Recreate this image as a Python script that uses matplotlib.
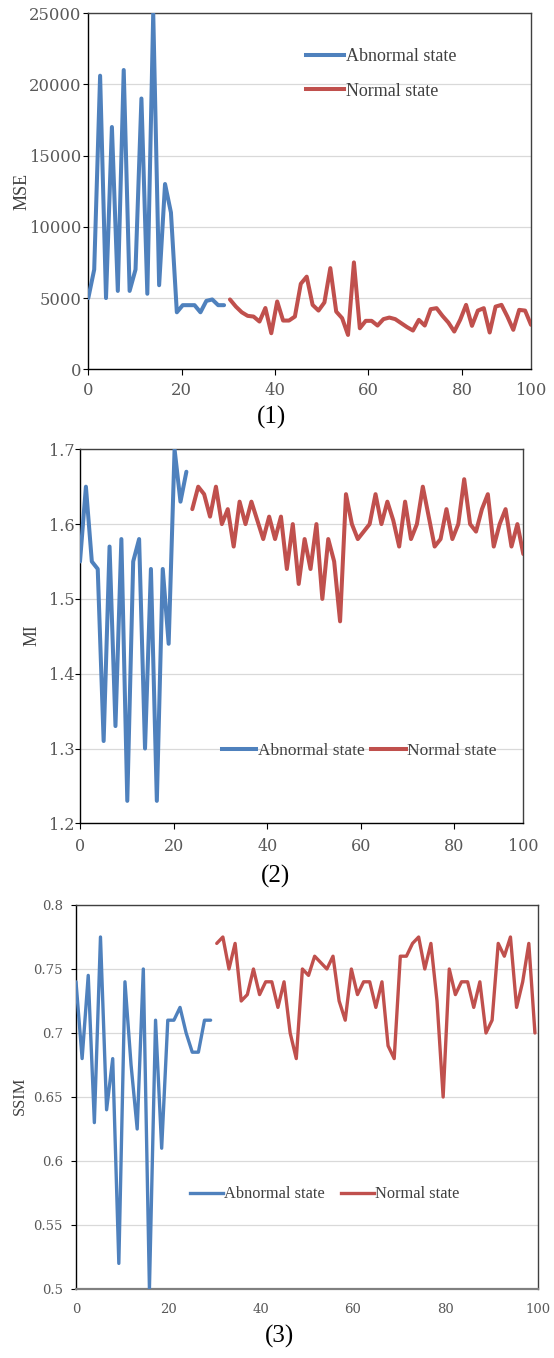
import numpy as np
import matplotlib
matplotlib.use("Agg")
import matplotlib.pyplot as plt
from matplotlib.lines import Line2D
from matplotlib.font_manager import FontProperties

# ---------------- data ----------------
mse_abnormal = [5000, 7000, 20600, 5000, 17000, 5500, 21000, 5500, 7000, 19000, 5300, 25000,
                5900, 13000, 11000, 4000, 4500, 4500, 4500, 4000, 4800, 4900, 4500, 4500]
mse_normal = [4900, 4400, 4000, 3750, 3700, 3350, 4300, 2530, 4760, 3420, 3420, 3700, 6000,
              6500, 4520, 4120, 4690, 7100, 4050, 3590, 2410, 7500, 2880, 3400, 3400, 3070,
              3520, 3630, 3520, 3240, 2960, 2720, 3470, 3070, 4220, 4290, 3750, 3280, 2650,
              3470, 4520, 3050, 4120, 4290, 2580, 4400, 4520, 3700, 2770, 4170, 4120, 3120]

mi_abnormal = [1.55, 1.65, 1.55, 1.54, 1.31, 1.57, 1.33, 1.58, 1.23, 1.55, 1.58, 1.30, 1.54,
               1.23, 1.54, 1.44, 1.70, 1.63, 1.67]
mi_normal = [1.62, 1.65, 1.64, 1.61, 1.65, 1.60, 1.62, 1.57, 1.63, 1.60, 1.63, 1.605, 1.58,
             1.61, 1.58, 1.61, 1.54, 1.60, 1.52, 1.58, 1.54, 1.60, 1.50, 1.58, 1.55, 1.47,
             1.64, 1.60, 1.58, 1.59, 1.60, 1.64, 1.60, 1.63, 1.605, 1.57, 1.63, 1.58, 1.60,
             1.65, 1.61, 1.57, 1.58, 1.62, 1.58, 1.60, 1.66, 1.60, 1.59, 1.62, 1.64, 1.57,
             1.60, 1.62, 1.57, 1.60, 1.56]

ssim_abnormal = [0.74, 0.68, 0.745, 0.63, 0.775, 0.64, 0.68, 0.52, 0.74, 0.675, 0.625, 0.75,
                 0.50, 0.71, 0.61, 0.71, 0.71, 0.72, 0.70, 0.685, 0.685, 0.71, 0.71]
ssim_normal = [0.77, 0.775, 0.75, 0.77, 0.725, 0.73, 0.75, 0.73, 0.74, 0.74, 0.72, 0.74, 0.70,
               0.68, 0.75, 0.745, 0.76, 0.755, 0.75, 0.76, 0.725, 0.71, 0.75, 0.73, 0.74,
               0.74, 0.72, 0.74, 0.69, 0.68, 0.76, 0.76, 0.77, 0.775, 0.75, 0.77, 0.725,
               0.65, 0.75, 0.73, 0.74, 0.74, 0.72, 0.74, 0.70, 0.71, 0.77, 0.76, 0.775,
               0.72, 0.74, 0.77, 0.70]

x_tick_labels = ["0", "20", "40", "60", "80", "100"]
series_labels = ["Abnormal state", "Normal state"]
panel_labels = ["(1)", "(2)", "(3)"]
y_names = ["MSE", "MI", "SSIM"]

BLUE = "#4F81BD"
RED = "#C0504D"
TICK_C = "#595959"
TEXT_C = "#404040"
GRID_C = "#D9D9D9"

W, H = 554, 1358
fig = plt.figure(figsize=(W / 100, H / 100), dpi=100)


def rect(left, right, top, bottom):
    return [left / W, 1 - bottom / H, (right - left) / W, (bottom - top) / H]


serif = "Liberation Serif"
tickfont = "DejaVu Serif"


def draw(ax, abn, nor, xmax_pos, ticks_pos, ylim, yticks, ylabels, lw, tick_fs,
         ypad, xpad, xtick_len, box_color):
    n = len(abn) + len(nor)
    step = xmax_pos / (n - 1)
    idx = np.arange(n)
    xs = idx * step
    ax.plot(xs[:len(abn)], abn, color=BLUE, lw=lw, solid_joinstyle="round",
            solid_capstyle="round", zorder=3)
    ax.plot(xs[len(abn):], nor, color=RED, lw=lw, solid_joinstyle="round",
            solid_capstyle="round", zorder=3)
    ax.set_xlim(0, xmax_pos)
    ax.set_ylim(*ylim)
    ax.set_yticks(yticks)
    ax.set_yticklabels(ylabels)
    ax.set_xticks(ticks_pos)
    ax.set_xticklabels(x_tick_labels)
    ax.yaxis.grid(True, color=GRID_C, lw=0.9, zorder=0)
    ax.set_axisbelow(True)
    for lab in ax.get_xticklabels() + ax.get_yticklabels():
        lab.set_fontfamily(tickfont)
        lab.set_fontsize(tick_fs)
        lab.set_color(TICK_C)
    ax.tick_params(axis="y", direction="out", length=3.6, width=0.8, pad=ypad, colors="black",
                   labelcolor=TICK_C)
    ax.tick_params(axis="x", direction="out", length=xtick_len, width=0.8, pad=xpad,
                   colors="black", labelcolor=TICK_C)
    xt = ax.xaxis.get_major_ticks()
    xt[-1].tick1line.set_visible(False)
    ax.spines["left"].set_color("black")
    ax.spines["bottom"].set_color("black")
    ax.spines["top"].set_color(box_color)
    ax.spines["right"].set_color(box_color)
    for s in ax.spines.values():
        s.set_linewidth(1.0)


# Panel 1
ax1 = fig.add_axes(rect(88.3, 531, 13, 369.3))
draw(ax1, mse_abnormal, mse_normal, 94.8, [0, 20, 40, 60, 80, 94.8], (0, 25000),
     [0, 5000, 10000, 15000, 20000, 25000], ["0", "5000", "10000", "15000", "20000", "25000"],
     2.9, 11.8, 1.5, 5.5, 4.0, "#404040")
h = [Line2D([], [], color=BLUE, lw=2.9), Line2D([], [], color=RED, lw=2.9)]
ax1.legend(h, series_labels, loc="center left", bbox_to_anchor=(0.491, 0.829), frameon=False,
           borderpad=0, borderaxespad=0, handlelength=2.1, handletextpad=0.15, labelspacing=0.95,
           prop=FontProperties(family=serif, size=13), labelcolor=TEXT_C)

# Panel 2
ax2 = fig.add_axes(rect(80, 523.3, 449.3, 823.3))
draw(ax2, mi_abnormal, mi_normal, 94.7, [0, 20, 40, 60, 80, 94.7], (1.2, 1.7),
     [1.2, 1.3, 1.4, 1.5, 1.6, 1.7], ["1.2", "1.3", "1.4", "1.5", "1.6", "1.7"],
     2.9, 11.5, 0.5, 6.0, 4.3, "#404040")
ax2.legend(h, series_labels, loc="center left", bbox_to_anchor=(0.3196, 0.193), frameon=False,
           ncol=2, borderpad=0, borderaxespad=0, handlelength=2.0, handletextpad=0.08,
           columnspacing=0.38, prop=FontProperties(family=serif, size=12.5), labelcolor=TEXT_C)

# Panel 3
ax3 = fig.add_axes(rect(76, 537.7, 905, 1289))
h3 = [Line2D([], [], color=BLUE, lw=2.4), Line2D([], [], color=RED, lw=2.4)]
draw(ax3, ssim_abnormal, ssim_normal, 99.4, [0, 20, 40, 60, 80, 100], (0.5, 0.8),
     [0.5, 0.55, 0.6, 0.65, 0.7, 0.75, 0.8], ["0.5", "0.55", "0.6", "0.65", "0.7", "0.75", "0.8"],
     2.4, 9.5, 5.8, 10.0, 0, "#404040")
ax3.set_xlim(0, 100)
ax3.spines["bottom"].set_color("#808080")
ax3.spines["bottom"].set_linewidth(1.6)
ax3.legend(h3, series_labels, loc="center left", bbox_to_anchor=(0.2469, 0.2466), frameon=False,
           ncol=2, borderpad=0, borderaxespad=0, handlelength=2.0, handletextpad=0.1,
           columnspacing=0.95, prop=FontProperties(family=serif, size=11.8), labelcolor=TEXT_C)

# y-axis names
for (xp, yp, name, fs) in [(21.7, 191.7, y_names[0], 13), (32, 635, y_names[1], 12.8),
                           (20, 1096, y_names[2], 11.8)]:
    fig.text(xp / W, 1 - yp / H, name, rotation=90, ha="center", va="center",
             family=serif, fontsize=fs, color=TEXT_C)

# panel captions
for (xp, yp, t) in [(272, 417, panel_labels[0]), (275, 876, panel_labels[1]),
                    (280, 1336, panel_labels[2])]:
    fig.text(xp / W, 1 - yp / H, t, ha="center", va="center", family=serif, fontsize=18,
             color="black")

fig.savefig("out.png", dpi=100)
